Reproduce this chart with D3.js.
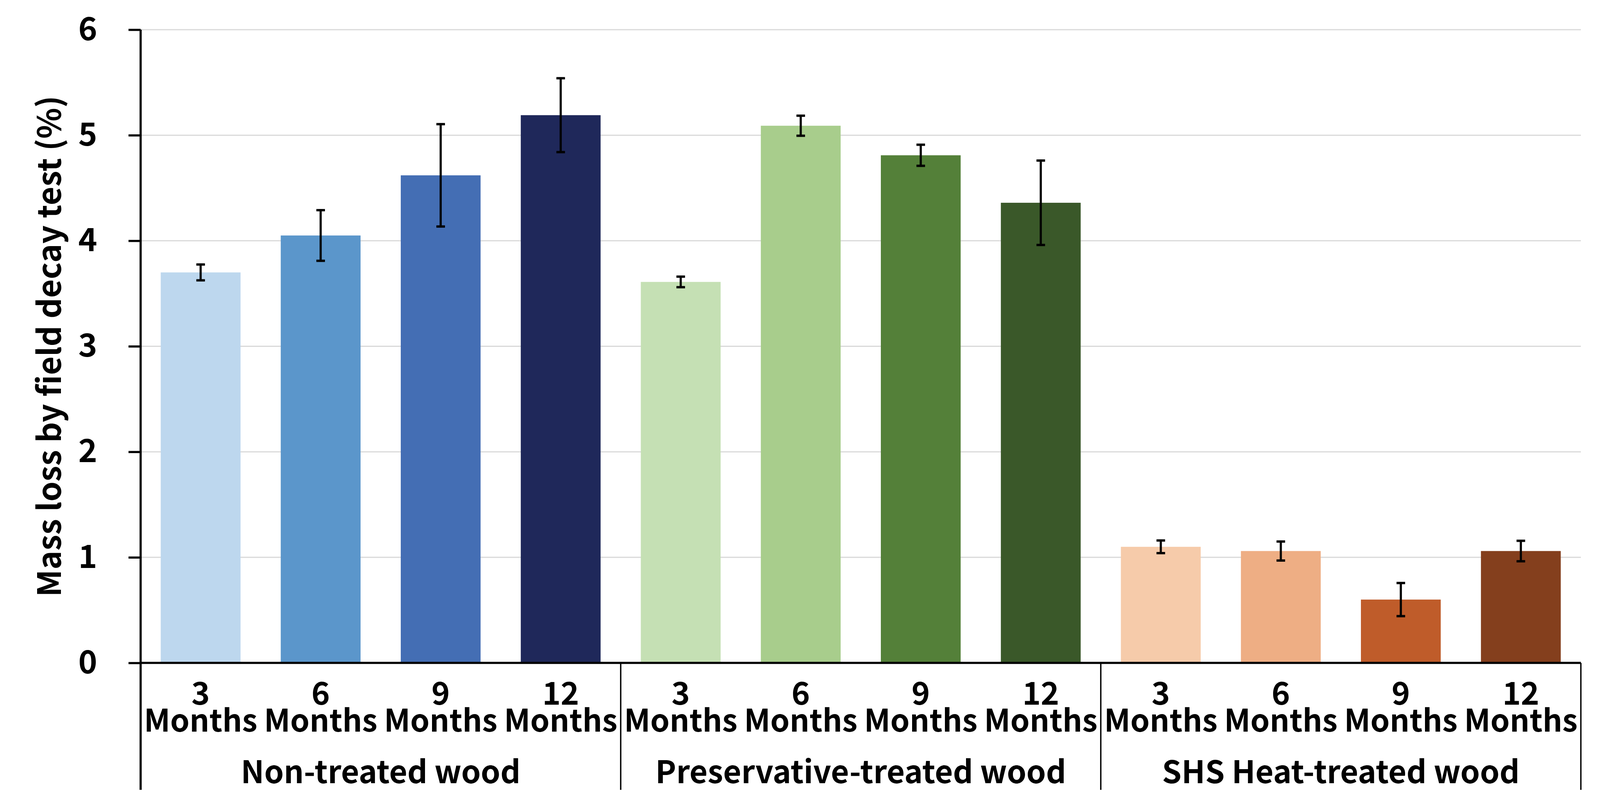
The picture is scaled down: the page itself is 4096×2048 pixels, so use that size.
<!DOCTYPE html>
<html>
<head>
<meta charset="utf-8">
<script src="https://cdn.jsdelivr.net/npm/d3@7"></script>
<style>
  html, body { margin: 0; padding: 0; background: #fff; }
  svg { display: block; }
  text { font-family: "Noto Sans CJK KR", "Noto Sans", sans-serif; font-weight: 700; fill: #000; }
</style>
</head>
<body>
<svg id="chart" width="4096" height="2048"></svg>
<script>
// ---- data ----
const groups = ["Non-treated wood", "Preservative-treated wood", "SHS Heat-treated wood"];
const periods = ["3", "6", "9", "12"];
const periodUnit = "Months";
const nonTreated = [3.70, 4.05, 4.62, 5.19];
const nonTreatedErr = [0.075, 0.24, 0.485, 0.35];
const preservative = [3.61, 5.09, 4.81, 4.36];
const preservativeErr = [0.05, 0.095, 0.10, 0.40];
const shsHeat = [1.10, 1.06, 0.60, 1.06];
const shsHeatErr = [0.06, 0.09, 0.157, 0.097];
const yTicks = [0, 1, 2, 3, 4, 5, 6];
const yTitle = "Mass loss by field decay test (%)";
const nonTreatedColors = ["#BDD7EE", "#5B96CB", "#446EB4", "#1F285A"];
const preservativeColors = ["#C5E0B4", "#A8CD8C", "#548039", "#3A5829"];
const shsHeatColors = ["#F6CBAA", "#EEAE84", "#BF5C2A", "#843F1D"];

const seriesValues = [nonTreated, preservative, shsHeat];
const seriesErrors = [nonTreatedErr, preservativeErr, shsHeatErr];
const seriesColors = [nonTreatedColors, preservativeColors, shsHeatColors];

const rows = [];
groups.forEach((g, gi) => periods.forEach((p, pi) => rows.push({
  key: g + "|" + p, group: g, gi, period: p,
  value: seriesValues[gi][pi], err: seriesErrors[gi][pi], color: seriesColors[gi][pi]
})));

// ---- layout ----
const plotL = 360, plotR = 4047, plotT = 76, plotB = 1697, catBottom = 2022;
const svg = d3.select("#chart");
svg.append("rect").attr("width", 4096).attr("height", 2048).attr("fill", "#fff");

const x = d3.scaleBand().domain(rows.map(d => d.key)).range([plotL, plotR])
  .paddingInner(0.335).paddingOuter(0.1675);
const y = d3.scaleLinear().domain([0, 6]).range([plotB, plotT]);

// gridlines
svg.append("g").selectAll("line").data(yTicks.filter(t => t > 0)).join("line")
  .attr("x1", plotL).attr("x2", plotR)
  .attr("y1", d => y(d)).attr("y2", d => y(d))
  .attr("stroke", "#D9D9D9").attr("stroke-width", 3);

// bars
svg.append("g").selectAll("rect").data(rows).join("rect")
  .attr("x", d => x(d.key)).attr("width", x.bandwidth())
  .attr("y", d => y(d.value)).attr("height", d => y(0) - y(d.value))
  .attr("fill", d => d.color);

// error bars
const eb = svg.append("g").selectAll("g").data(rows).join("g")
  .attr("transform", d => `translate(${x(d.key) + x.bandwidth() / 2},0)`);
eb.append("line").attr("x1", 0).attr("x2", 0)
  .attr("y1", d => y(d.value + d.err)).attr("y2", d => y(d.value - d.err))
  .attr("stroke", "#000").attr("stroke-width", 5.5);
eb.selectAll("line.cap").data(d => [d.value + d.err, d.value - d.err]).join("line")
  .attr("class", "cap").attr("x1", -11).attr("x2", 11)
  .attr("y1", v => y(v)).attr("y2", v => y(v))
  .attr("stroke", "#000").attr("stroke-width", 6);

// y axis
const yAxis = d3.axisLeft(y).tickValues(yTicks).tickFormat(d3.format("d"))
  .tickSize(31).tickSizeOuter(0).tickPadding(80);
const gy = svg.append("g").attr("transform", `translate(${plotL},0)`).call(yAxis);
gy.select(".domain").remove();
gy.selectAll(".tick line").attr("stroke", "#000").attr("stroke-width", 5.5);
gy.selectAll(".tick text").attr("font-size", 82).attr("font-family", null).attr("fill", "#000");

// left axis line (extends to bottom of category area)
svg.append("line").attr("x1", plotL).attr("x2", plotL).attr("y1", plotT).attr("y2", catBottom)
  .attr("stroke", "#000").attr("stroke-width", 5.5);

// x axis baseline
svg.append("line").attr("x1", plotL).attr("x2", plotR).attr("y1", plotB).attr("y2", plotB)
  .attr("stroke", "#000").attr("stroke-width", 5.5);

// group dividers (right edge of each group)
const gBounds = groups.map(g => x(g + "|" + periods[periods.length - 1]) + x.bandwidth() + (x.step() - x.bandwidth()) / 2);
svg.append("g").selectAll("line").data(gBounds).join("line")
  .attr("x1", d => d).attr("x2", d => d).attr("y1", plotB).attr("y2", catBottom)
  .attr("stroke", "#000").attr("stroke-width", 3.5);

// category labels (number line above the unit line)
const cl = svg.append("g").selectAll("text").data(rows).join("text")
  .attr("text-anchor", "middle").attr("font-size", 80);
cl.append("tspan").attr("x", d => x(d.key) + x.bandwidth() / 2).attr("y", 1804).text(d => d.period);
cl.append("tspan").attr("x", d => x(d.key) + x.bandwidth() / 2).attr("y", 1873)
  .attr("font-size", 79).text(periodUnit);

// group labels
svg.append("g").selectAll("text").data(groups).join("text")
  .attr("text-anchor", "middle").attr("font-size", 80)
  .attr("x", g => {
    const first = x(g + "|" + periods[0]), last = x(g + "|" + periods[periods.length - 1]) + x.bandwidth();
    return (first + last) / 2;
  })
  .attr("y", 2005).text(d => d);

// y title
svg.append("text").attr("transform", `translate(156,${(plotT + plotB) / 2}) rotate(-90)`)
  .attr("text-anchor", "middle").attr("font-size", 82).text(yTitle);
</script>
</body>
</html>
